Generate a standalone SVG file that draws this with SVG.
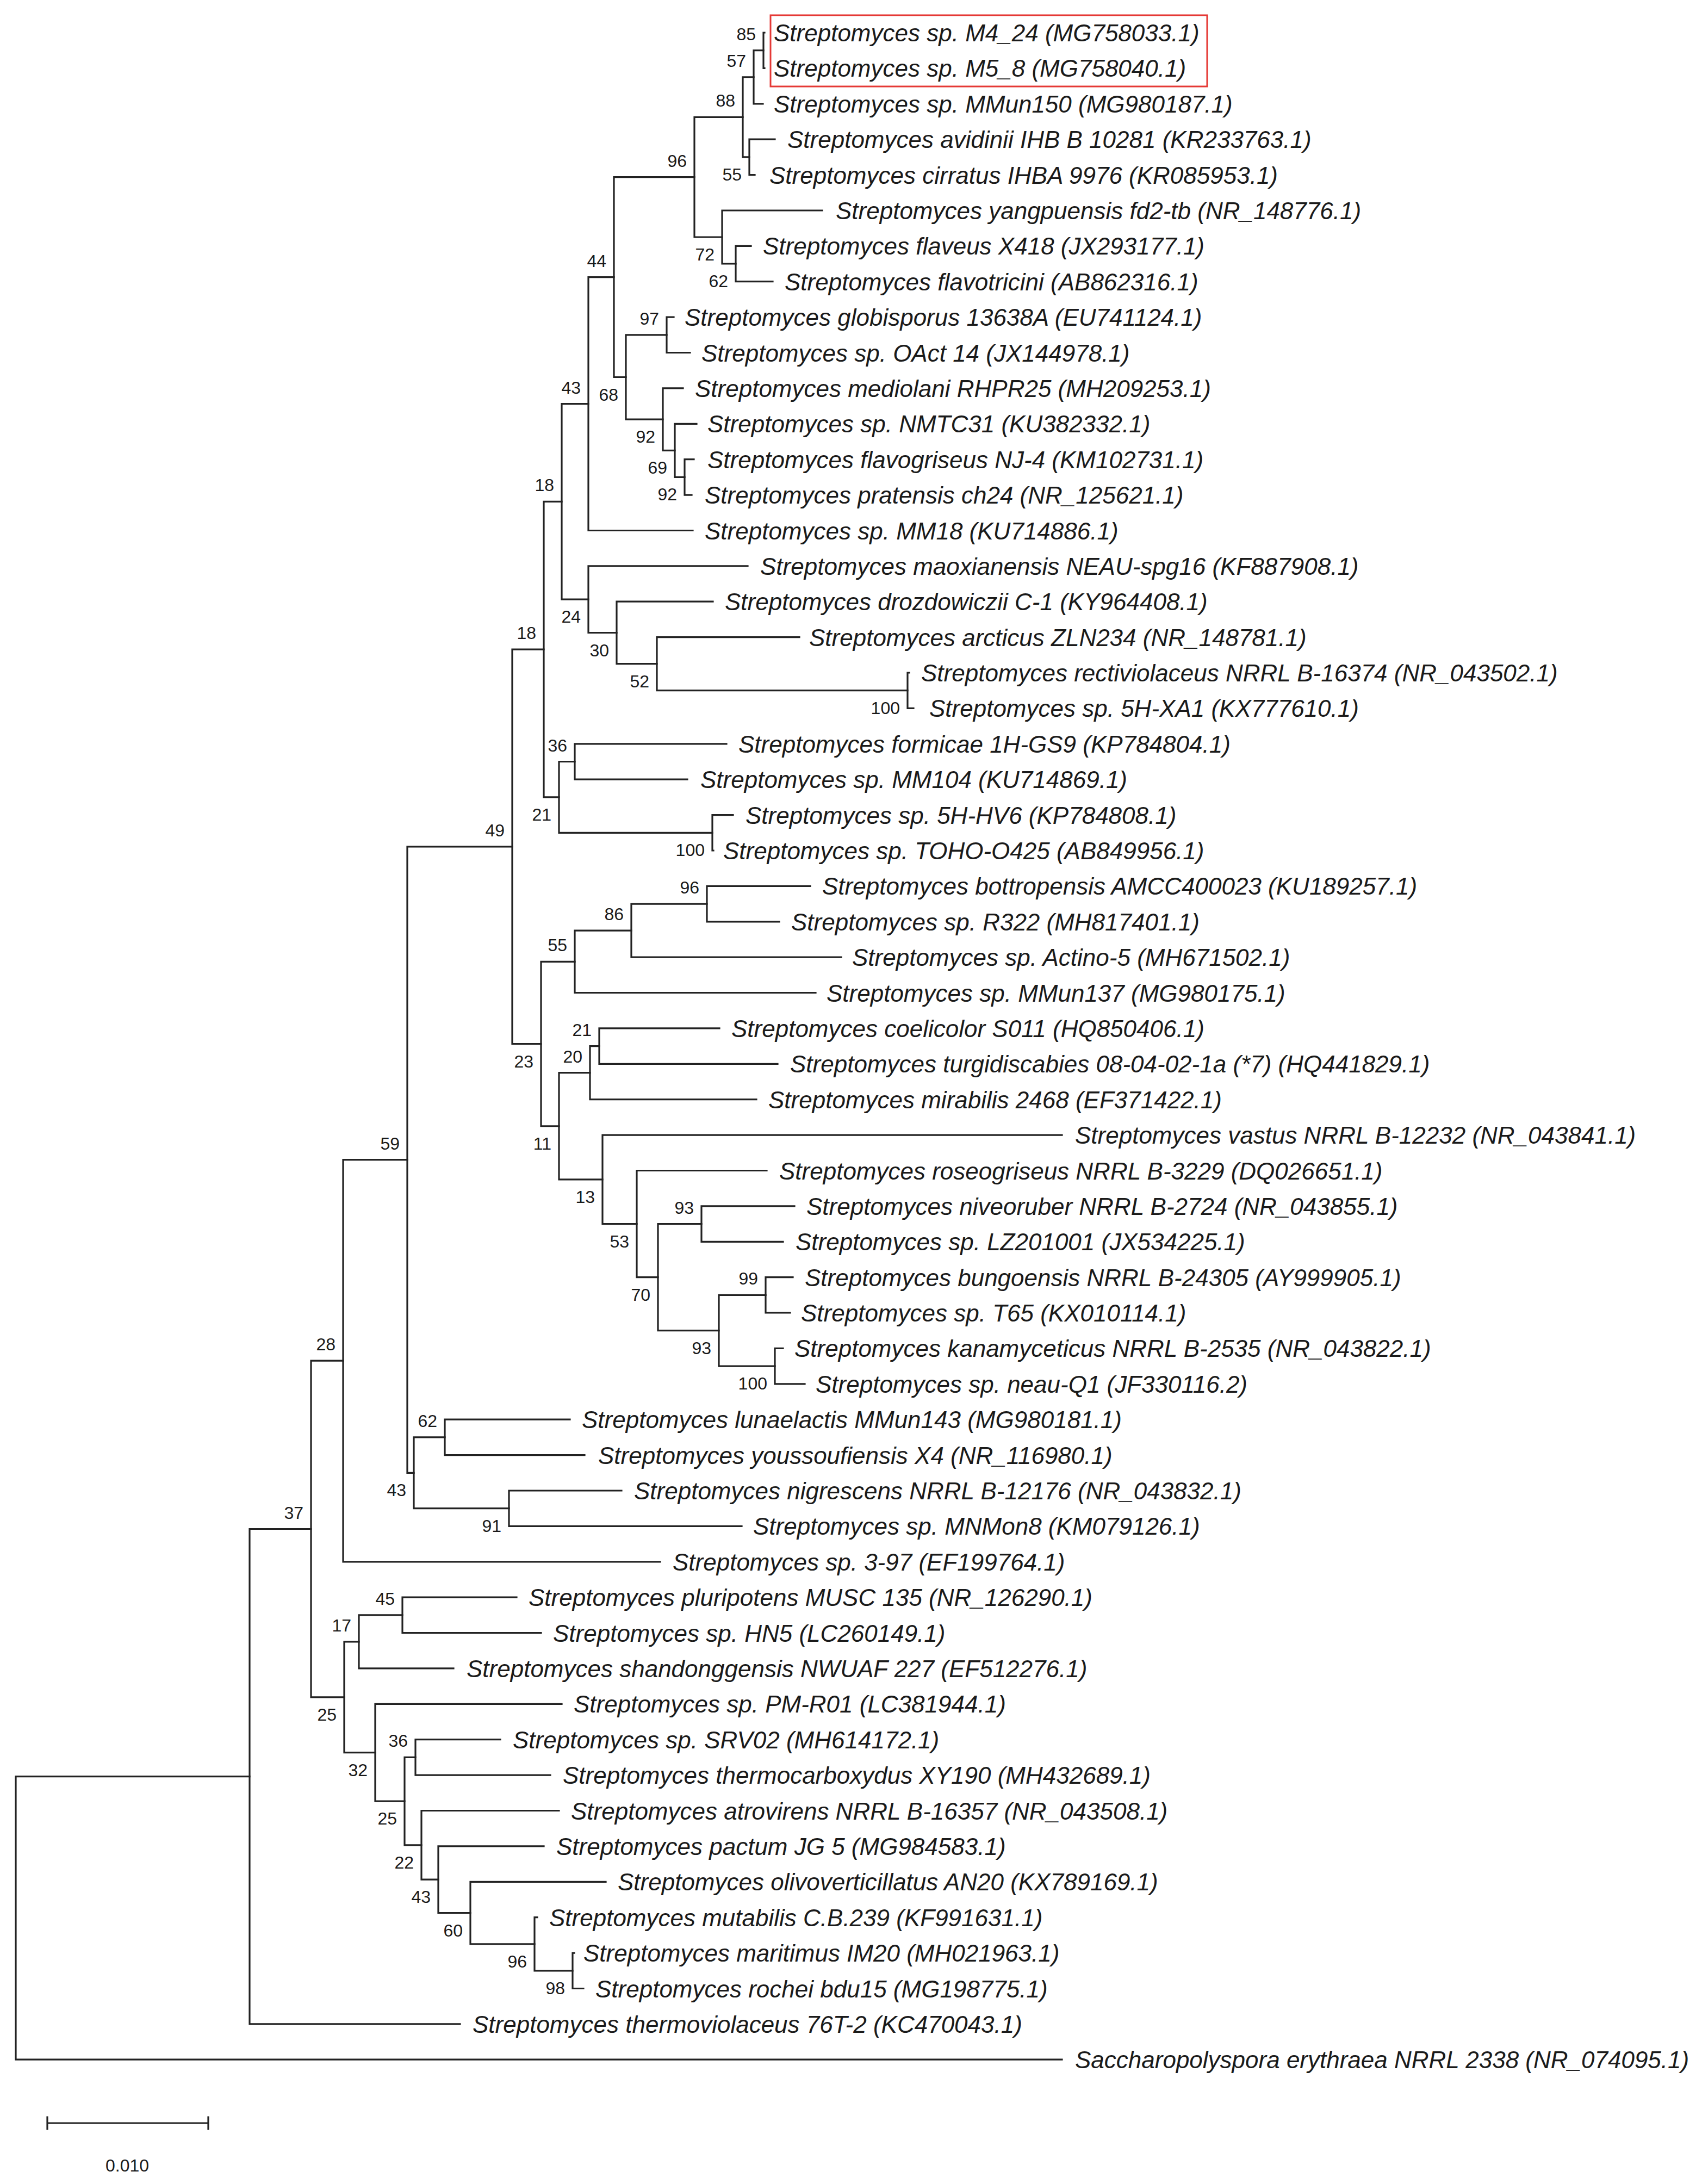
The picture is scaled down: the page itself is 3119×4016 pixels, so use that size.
<svg xmlns="http://www.w3.org/2000/svg" width="3119" height="4016" viewBox="0 0 3119 4016">
<style>
.br{fill:none;stroke:#222;stroke-width:3.2;stroke-linecap:square}
.lf{font-family:"Liberation Sans",Arial,sans-serif;font-size:44px;font-style:italic;fill:#1a1a1a}
.bs{font-family:"Liberation Sans",Arial,sans-serif;font-size:32px;fill:#1a1a1a;text-anchor:end}
.sc{font-family:"Liberation Sans",Arial,sans-serif;font-size:32px;fill:#1a1a1a;text-anchor:middle}
</style>
<rect width="3119" height="4016" fill="#fff"/>
<g id="connectors">
<path class="br" d="M1406 60 H1404 V125.4 H1406"/>
<path class="br" d="M1404 92.7 H1386 V190.8 H1403"/>
<path class="br" d="M1386 141.75 H1366 V288.9 H1378"/>
<path class="br" d="M1425 256.2 H1378 V321.6 H1388"/>
<path class="br" d="M1366 215.3 H1277 V436 H1328"/>
<path class="br" d="M1512 387 H1328 V485 H1353"/>
<path class="br" d="M1381 452.3 H1353 V517.7 H1421"/>
<path class="br" d="M1277 325.7 H1129 V693.5 H1151"/>
<path class="br" d="M1226 615.8 H1151 V771.1 H1219"/>
<path class="br" d="M1239 583.1 H1226 V648.5 H1269"/>
<path class="br" d="M1256 713.9 H1219 V828.35 H1241"/>
<path class="br" d="M1281 779.3 H1241 V877.4 H1259"/>
<path class="br" d="M1276 844.7 H1259 V910.1 H1272"/>
<path class="br" d="M1129 509.6 H1082 V975.5 H1274"/>
<path class="br" d="M1082 742.6 H1033 V1102.2 H1082"/>
<path class="br" d="M1375 1040.9 H1082 V1163.5 H1134"/>
<path class="br" d="M1311 1106.2 H1134 V1220.7 H1208"/>
<path class="br" d="M1470 1171.6 H1208 V1269.7 H1669"/>
<path class="br" d="M1672 1237 H1669 V1302.4 H1680"/>
<path class="br" d="M1033 922.4 H1000 V1465.9 H1028"/>
<path class="br" d="M1057 1400.5 H1028 V1531.3 H1310"/>
<path class="br" d="M1336 1367.8 H1057 V1433.2 H1264"/>
<path class="br" d="M1348 1498.6 H1310 V1564 H1312"/>
<path class="br" d="M1000 1194.2 H942 V1919.5 H995"/>
<path class="br" d="M1057 1768.3 H995 V2070.75 H1028"/>
<path class="br" d="M1161 1711.1 H1057 V1825.5 H1500"/>
<path class="br" d="M1300 1662.1 H1161 V1760.1 H1547"/>
<path class="br" d="M1490 1629.4 H1300 V1694.8 H1433"/>
<path class="br" d="M1085 1972.65 H1028 V2168.85 H1108"/>
<path class="br" d="M1102 1923.6 H1085 V2021.7 H1391"/>
<path class="br" d="M1323 1890.9 H1102 V1956.3 H1430"/>
<path class="br" d="M1953 2087.1 H1108 V2250.6 H1171"/>
<path class="br" d="M1410 2152.5 H1171 V2348.65 H1210"/>
<path class="br" d="M1290 2250.6 H1210 V2446.7 H1322"/>
<path class="br" d="M1461 2217.9 H1290 V2283.3 H1440"/>
<path class="br" d="M1408 2381.35 H1322 V2512.1 H1425"/>
<path class="br" d="M1458 2348.7 H1408 V2414 H1453"/>
<path class="br" d="M1440 2479.4 H1425 V2544.8 H1480"/>
<path class="br" d="M942 1556.85 H749 V2708.3 H761"/>
<path class="br" d="M818 2642.9 H761 V2773.7 H936"/>
<path class="br" d="M1048 2610.2 H818 V2675.6 H1075"/>
<path class="br" d="M1143 2741 H936 V2806.4 H1364"/>
<path class="br" d="M749 2132.6 H631 V2871.8 H1214"/>
<path class="br" d="M631 2502.2 H572 V3120.8 H633"/>
<path class="br" d="M660 3018.9 H633 V3222.7 H690"/>
<path class="br" d="M740 2969.9 H660 V3067.9 H834"/>
<path class="br" d="M950 2937.2 H740 V3002.6 H995"/>
<path class="br" d="M1033 3133.3 H690 V3312.1 H744"/>
<path class="br" d="M764 3231.4 H744 V3392.85 H775"/>
<path class="br" d="M920 3198.7 H764 V3264.1 H1012"/>
<path class="br" d="M1028 3329.5 H775 V3456.2 H806"/>
<path class="br" d="M1000 3394.9 H806 V3517.5 H865"/>
<path class="br" d="M1114 3460.3 H865 V3574.75 H983"/>
<path class="br" d="M988 3525.7 H983 V3623.8 H1053"/>
<path class="br" d="M1056 3591.1 H1053 V3656.5 H1073"/>
<path class="br" d="M572 2811.5 H459 V3721.8 H846"/>
<path class="br" d="M459 3266.65 H29 V3787.2 H1953"/>
</g>
<g id="highlight"><rect x="1417" y="28" width="803" height="131" fill="none" stroke="#e53935" stroke-width="3"/></g>
<g id="leaves">
<g id="leaf-0"><text class="lf" x="1423" y="76">Streptomyces sp. M4_24 (MG758033.1)</text></g>
<g id="leaf-1"><text class="lf" x="1423" y="141.4">Streptomyces sp. M5_8 (MG758040.1)</text></g>
<g id="leaf-2"><text class="lf" x="1423" y="206.8">Streptomyces sp. MMun150 (MG980187.1)</text></g>
<g id="leaf-3"><text class="lf" x="1448" y="272.2">Streptomyces avidinii IHB B 10281 (KR233763.1)</text></g>
<g id="leaf-4"><text class="lf" x="1415" y="337.6">Streptomyces cirratus IHBA 9976 (KR085953.1)</text></g>
<g id="leaf-5"><text class="lf" x="1537" y="403">Streptomyces yangpuensis fd2-tb (NR_148776.1)</text></g>
<g id="leaf-6"><text class="lf" x="1403" y="468.3">Streptomyces flaveus X418 (JX293177.1)</text></g>
<g id="leaf-7"><text class="lf" x="1443" y="533.7">Streptomyces flavotricini (AB862316.1)</text></g>
<g id="leaf-8"><text class="lf" x="1259" y="599.1">Streptomyces globisporus 13638A (EU741124.1)</text></g>
<g id="leaf-9"><text class="lf" x="1290" y="664.5">Streptomyces sp. OAct 14 (JX144978.1)</text></g>
<g id="leaf-10"><text class="lf" x="1278" y="729.9">Streptomyces mediolani RHPR25 (MH209253.1)</text></g>
<g id="leaf-11"><text class="lf" x="1301" y="795.3">Streptomyces sp. NMTC31 (KU382332.1)</text></g>
<g id="leaf-12"><text class="lf" x="1301" y="860.7">Streptomyces flavogriseus NJ-4 (KM102731.1)</text></g>
<g id="leaf-13"><text class="lf" x="1296" y="926.1">Streptomyces pratensis ch24 (NR_125621.1)</text></g>
<g id="leaf-14"><text class="lf" x="1296" y="991.5">Streptomyces sp. MM18 (KU714886.1)</text></g>
<g id="leaf-15"><text class="lf" x="1398" y="1056.9">Streptomyces maoxianensis NEAU-spg16 (KF887908.1)</text></g>
<g id="leaf-16"><text class="lf" x="1333" y="1122.2">Streptomyces drozdowiczii C-1 (KY964408.1)</text></g>
<g id="leaf-17"><text class="lf" x="1488" y="1187.6">Streptomyces arcticus ZLN234 (NR_148781.1)</text></g>
<g id="leaf-18"><text class="lf" x="1694" y="1253">Streptomyces rectiviolaceus NRRL B-16374 (NR_043502.1)</text></g>
<g id="leaf-19"><text class="lf" x="1709" y="1318.4">Streptomyces sp. 5H-XA1 (KX777610.1)</text></g>
<g id="leaf-20"><text class="lf" x="1358" y="1383.8">Streptomyces formicae 1H-GS9 (KP784804.1)</text></g>
<g id="leaf-21"><text class="lf" x="1288" y="1449.2">Streptomyces sp. MM104 (KU714869.1)</text></g>
<g id="leaf-22"><text class="lf" x="1371" y="1514.6">Streptomyces sp. 5H-HV6 (KP784808.1)</text></g>
<g id="leaf-23"><text class="lf" x="1330" y="1580">Streptomyces sp. TOHO-O425 (AB849956.1)</text></g>
<g id="leaf-24"><text class="lf" x="1512" y="1645.4">Streptomyces bottropensis AMCC400023 (KU189257.1)</text></g>
<g id="leaf-25"><text class="lf" x="1455" y="1710.8">Streptomyces sp. R322 (MH817401.1)</text></g>
<g id="leaf-26"><text class="lf" x="1567" y="1776.1">Streptomyces sp. Actino-5 (MH671502.1)</text></g>
<g id="leaf-27"><text class="lf" x="1520" y="1841.5">Streptomyces sp. MMun137 (MG980175.1)</text></g>
<g id="leaf-28"><text class="lf" x="1345" y="1906.9">Streptomyces coelicolor S011 (HQ850406.1)</text></g>
<g id="leaf-29"><text class="lf" x="1453" y="1972.3">Streptomyces turgidiscabies 08-04-02-1a (*7) (HQ441829.1)</text></g>
<g id="leaf-30"><text class="lf" x="1413" y="2037.7">Streptomyces mirabilis 2468 (EF371422.1)</text></g>
<g id="leaf-31"><text class="lf" x="1977" y="2103.1">Streptomyces vastus NRRL B-12232 (NR_043841.1)</text></g>
<g id="leaf-32"><text class="lf" x="1433" y="2168.5">Streptomyces roseogriseus NRRL B-3229 (DQ026651.1)</text></g>
<g id="leaf-33"><text class="lf" x="1483" y="2233.9">Streptomyces niveoruber NRRL B-2724 (NR_043855.1)</text></g>
<g id="leaf-34"><text class="lf" x="1463" y="2299.3">Streptomyces sp. LZ201001 (JX534225.1)</text></g>
<g id="leaf-35"><text class="lf" x="1480" y="2364.7">Streptomyces bungoensis NRRL B-24305 (AY999905.1)</text></g>
<g id="leaf-36"><text class="lf" x="1473" y="2430">Streptomyces sp. T65 (KX010114.1)</text></g>
<g id="leaf-37"><text class="lf" x="1461" y="2495.4">Streptomyces kanamyceticus NRRL B-2535 (NR_043822.1)</text></g>
<g id="leaf-38"><text class="lf" x="1500" y="2560.8">Streptomyces sp. neau-Q1 (JF330116.2)</text></g>
<g id="leaf-39"><text class="lf" x="1070" y="2626.2">Streptomyces lunaelactis MMun143 (MG980181.1)</text></g>
<g id="leaf-40"><text class="lf" x="1100" y="2691.6">Streptomyces youssoufiensis X4 (NR_116980.1)</text></g>
<g id="leaf-41"><text class="lf" x="1166" y="2757">Streptomyces nigrescens NRRL B-12176 (NR_043832.1)</text></g>
<g id="leaf-42"><text class="lf" x="1385" y="2822.4">Streptomyces sp. MNMon8 (KM079126.1)</text></g>
<g id="leaf-43"><text class="lf" x="1237" y="2887.8">Streptomyces sp. 3-97 (EF199764.1)</text></g>
<g id="leaf-44"><text class="lf" x="972" y="2953.2">Streptomyces pluripotens MUSC 135 (NR_126290.1)</text></g>
<g id="leaf-45"><text class="lf" x="1017" y="3018.6">Streptomyces sp. HN5 (LC260149.1)</text></g>
<g id="leaf-46"><text class="lf" x="858" y="3083.9">Streptomyces shandonggensis NWUAF 227 (EF512276.1)</text></g>
<g id="leaf-47"><text class="lf" x="1055" y="3149.3">Streptomyces sp. PM-R01 (LC381944.1)</text></g>
<g id="leaf-48"><text class="lf" x="943" y="3214.7">Streptomyces sp. SRV02 (MH614172.1)</text></g>
<g id="leaf-49"><text class="lf" x="1035" y="3280.1">Streptomyces thermocarboxydus XY190 (MH432689.1)</text></g>
<g id="leaf-50"><text class="lf" x="1050" y="3345.5">Streptomyces atrovirens NRRL B-16357 (NR_043508.1)</text></g>
<g id="leaf-51"><text class="lf" x="1023" y="3410.9">Streptomyces pactum JG 5 (MG984583.1)</text></g>
<g id="leaf-52"><text class="lf" x="1136" y="3476.3">Streptomyces olivoverticillatus AN20 (KX789169.1)</text></g>
<g id="leaf-53"><text class="lf" x="1010" y="3541.7">Streptomyces mutabilis C.B.239 (KF991631.1)</text></g>
<g id="leaf-54"><text class="lf" x="1073" y="3607.1">Streptomyces maritimus IM20 (MH021963.1)</text></g>
<g id="leaf-55"><text class="lf" x="1095" y="3672.5">Streptomyces rochei bdu15 (MG198775.1)</text></g>
<g id="leaf-56"><text class="lf" x="869" y="3737.8">Streptomyces thermoviolaceus 76T-2 (KC470043.1)</text></g>
<g id="leaf-57"><text class="lf" x="1977" y="3803.2">Saccharopolyspora erythraea NRRL 2338 (NR_074095.1)</text></g>
</g>
<g id="bootstrap">
<g id="node-A"><text class="bs" x="1390" y="73.7">85</text></g>
<g id="node-B"><text class="bs" x="1372" y="122.75">57</text></g>
<g id="node-C"><text class="bs" x="1352" y="196.3">88</text></g>
<g id="node-D"><text class="bs" x="1364" y="331.9">55</text></g>
<g id="node-E"><text class="bs" x="1263" y="306.7">96</text></g>
<g id="node-F"><text class="bs" x="1314" y="479">72</text></g>
<g id="node-G"><text class="bs" x="1339" y="528">62</text></g>
<g id="node-H"><text class="bs" x="1115" y="490.6">44</text></g>
<g id="node-I"><text class="bs" x="1137" y="736.5">68</text></g>
<g id="node-J"><text class="bs" x="1212" y="596.8">97</text></g>
<g id="node-K"><text class="bs" x="1205" y="814.1">92</text></g>
<g id="node-L"><text class="bs" x="1227" y="871.35">69</text></g>
<g id="node-M"><text class="bs" x="1245" y="920.4">92</text></g>
<g id="node-N"><text class="bs" x="1068" y="723.6">43</text></g>
<g id="node-O"><text class="bs" x="1019" y="903.4">18</text></g>
<g id="node-P"><text class="bs" x="1068" y="1145.2">24</text></g>
<g id="node-Q"><text class="bs" x="1120" y="1206.5">30</text></g>
<g id="node-R"><text class="bs" x="1194" y="1263.7">52</text></g>
<g id="node-S"><text class="bs" x="1655" y="1312.7">100</text></g>
<g id="node-T"><text class="bs" x="986" y="1175.2">18</text></g>
<g id="node-U"><text class="bs" x="1014" y="1508.9">21</text></g>
<g id="node-V"><text class="bs" x="1043" y="1381.5">36</text></g>
<g id="node-W"><text class="bs" x="1296" y="1574.3">100</text></g>
<g id="node-X"><text class="bs" x="928" y="1537.85">49</text></g>
<g id="node-Y"><text class="bs" x="981" y="1962.5">23</text></g>
<g id="node-Z"><text class="bs" x="1043" y="1749.3">55</text></g>
<g id="node-AB"><text class="bs" x="1147" y="1692.1">86</text></g>
<g id="node-AC"><text class="bs" x="1286" y="1643.1">96</text></g>
<g id="node-AA"><text class="bs" x="1014" y="2113.75">11</text></g>
<g id="node-AD"><text class="bs" x="1071" y="1953.65">20</text></g>
<g id="node-AF"><text class="bs" x="1088" y="1904.6">21</text></g>
<g id="node-AE"><text class="bs" x="1094" y="2211.85">13</text></g>
<g id="node-AG"><text class="bs" x="1157" y="2293.6">53</text></g>
<g id="node-AH"><text class="bs" x="1196" y="2391.65">70</text></g>
<g id="node-AI"><text class="bs" x="1276" y="2231.6">93</text></g>
<g id="node-AJ"><text class="bs" x="1308" y="2489.7">93</text></g>
<g id="node-AK"><text class="bs" x="1394" y="2362.35">99</text></g>
<g id="node-AL"><text class="bs" x="1411" y="2555.1">100</text></g>
<g id="node-AM"><text class="bs" x="735" y="2113.6">59</text></g>
<g id="node-AN"><text class="bs" x="747" y="2751.3">43</text></g>
<g id="node-AO"><text class="bs" x="804" y="2623.9">62</text></g>
<g id="node-AP"><text class="bs" x="922" y="2816.7">91</text></g>
<g id="node-AQ"><text class="bs" x="617" y="2483.2">28</text></g>
<g id="node-AR"><text class="bs" x="558" y="2792.5">37</text></g>
<g id="node-AS"><text class="bs" x="619" y="3163.8">25</text></g>
<g id="node-AT"><text class="bs" x="646" y="2999.9">17</text></g>
<g id="node-AV"><text class="bs" x="726" y="2950.9">45</text></g>
<g id="node-AU"><text class="bs" x="676" y="3265.7">32</text></g>
<g id="node-AW"><text class="bs" x="730" y="3355.1">25</text></g>
<g id="node-AX"><text class="bs" x="750" y="3212.4">36</text></g>
<g id="node-AY"><text class="bs" x="761" y="3435.85">22</text></g>
<g id="node-AZ"><text class="bs" x="792" y="3499.2">43</text></g>
<g id="node-BA"><text class="bs" x="851" y="3560.5">60</text></g>
<g id="node-BB"><text class="bs" x="969" y="3617.75">96</text></g>
<g id="node-BC"><text class="bs" x="1039" y="3666.8">98</text></g>
</g>
<g id="scale-bar">
<path class="br" d="M87 3904 H383 M87 3893 V3915 M383 3893 V3915"/>
<text class="sc" x="234" y="3993">0.010</text>
</g>
</svg>
